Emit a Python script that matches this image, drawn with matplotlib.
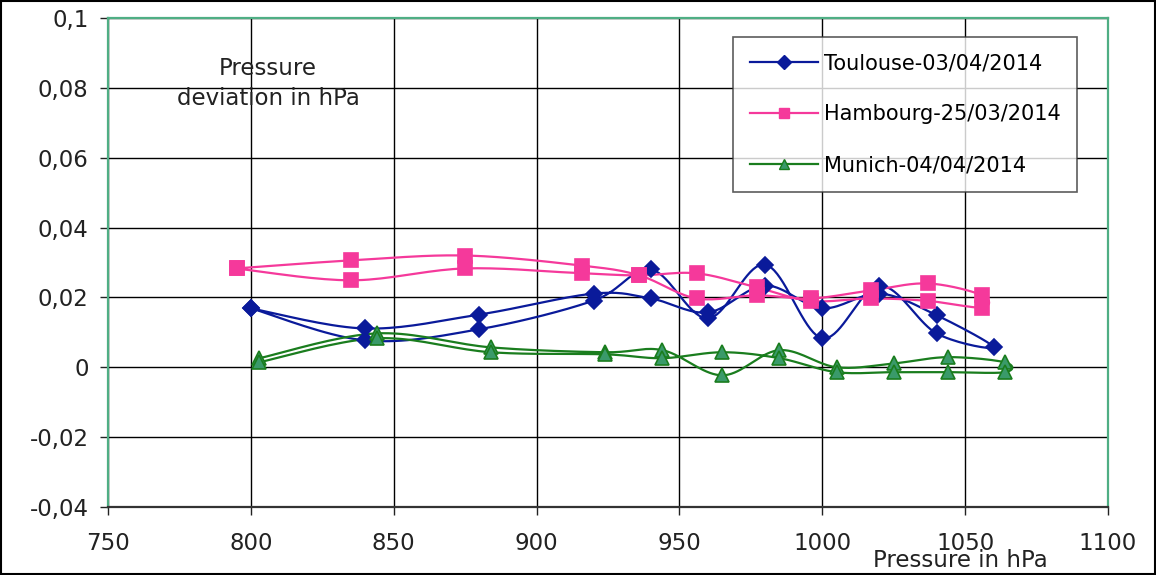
import numpy as np
import matplotlib.pyplot as plt
from matplotlib.patches import Rectangle

# Data (each run goes up in pressure, then back down)
toulouse_p = [800, 840, 880, 920, 940, 960, 980, 1000, 1020, 1040, 1060,
              1040, 1020, 1000, 980, 960, 940, 920, 880, 840, 800]
toulouse_d = [0.0169, 0.0077, 0.0109, 0.0191, 0.0280, 0.0140, 0.0294, 0.0083, 0.0234, 0.0097, 0.0057,
              0.0149, 0.0211, 0.0169, 0.0234, 0.0157, 0.0197, 0.0211, 0.0151, 0.0111, 0.0169]

hambourg_p = [795, 835, 875, 916, 936, 956, 977, 996, 1017, 1037, 1056,
              1056, 1037, 1017, 996, 977, 956, 936, 916, 875, 835, 795]
hambourg_d = [0.0283, 0.0306, 0.0320, 0.0291, 0.0263, 0.0197, 0.0206, 0.0197, 0.0220, 0.0240, 0.0206,
              0.0171, 0.0190, 0.0197, 0.0190, 0.0229, 0.0269, 0.0263, 0.0269, 0.0283, 0.0249, 0.0283]

munich_p = [803, 844, 884, 924, 944, 965, 985, 1005, 1025, 1044, 1064,
            1064, 1044, 1025, 1005, 985, 965, 944, 924, 884, 844, 803]
munich_d = [0.0026, 0.0097, 0.0057, 0.0043, 0.0049, -0.0023, 0.0049, 0.0000, 0.0011, 0.0029, 0.0014,
            -0.0014, -0.0014, -0.0014, -0.0014, 0.0026, 0.0043, 0.0026, 0.0037, 0.0043, 0.0083, 0.0014]

x_ticks = [750, 800, 850, 900, 950, 1000, 1050, 1100]
y_ticks = [-0.04, -0.02, 0, 0.02, 0.04, 0.06, 0.08, 0.1]
y_tick_labels = ["-0,04", "-0,02", "0", "0,02", "0,04", "0,06", "0,08", "0,1"]


def smooth(xs, ys, n=20):
    # Catmull-Rom style smoothing, like a spreadsheet "smoothed line"
    xs = np.asarray(xs, float)
    ys = np.asarray(ys, float)
    px = np.concatenate([[xs[0]], xs, [xs[-1]]])
    py = np.concatenate([[ys[0]], ys, [ys[-1]]])
    out_x, out_y = [], []
    t = np.linspace(0, 1, n)
    for i in range(1, len(px) - 2):
        p0, p1, p2, p3 = px[i - 1], px[i], px[i + 1], px[i + 2]
        q0, q1, q2, q3 = py[i - 1], py[i], py[i + 1], py[i + 2]
        c1x, c1y = p1 + (p2 - p0) / 6, q1 + (q2 - q0) / 6
        c2x, c2y = p2 - (p3 - p1) / 6, q2 - (q3 - q1) / 6
        bx = (1 - t) ** 3 * p1 + 3 * (1 - t) ** 2 * t * c1x + 3 * (1 - t) * t ** 2 * c2x + t ** 3 * p2
        by = (1 - t) ** 3 * q1 + 3 * (1 - t) ** 2 * t * c1y + 3 * (1 - t) * t ** 2 * c2y + t ** 3 * q2
        out_x.extend(bx)
        out_y.extend(by)
    return out_x, out_y


fig = plt.figure(figsize=(11.56, 5.75), dpi=100)
ax = fig.add_axes([0.0934, 0.1183, 0.8651, 0.8504])

series = [
    (toulouse_p, toulouse_d, "#0a1a9a", "D", "#0a1a9a", "#0a1a9a", 8, "Toulouse-03/04/2014"),
    (hambourg_p, hambourg_d, "#f5399b", "s", "#f5399b", "#f5399b", 10, "Hambourg-25/03/2014"),
    (munich_p, munich_d, "#1a7d1e", "^", "#3a9a6a", "#1a7d1e", 10, "Munich-04/04/2014"),
]
for px, py, col, mk, fc, ec, ms, lab in series:
    sx, sy = smooth(px, py)
    ax.plot(sx, sy, color=col, lw=1.6, zorder=3)
    ax.plot(px, py, ls="none", marker=mk, ms=ms, mfc=fc, mec=ec, mew=1.2, zorder=4)
    ax.plot([], [], color=col, lw=1.6, marker=mk, ms=7, mfc=fc, mec=ec, label=lab)

ax.set_xlim(750, 1100)
ax.set_ylim(-0.04, 0.1)
ax.set_xticks(x_ticks)
ax.set_yticks(y_ticks)
ax.set_yticklabels(y_tick_labels)
ax.grid(True, color="black", lw=1.0)
ax.set_axisbelow(True)
ax.tick_params(direction="out", length=6, width=1, labelsize=16.5, colors="#222222")
ax.tick_params(axis="x", pad=12)
ax.tick_params(axis="y", pad=8)

for side in ["top", "right", "left"]:
    ax.spines[side].set_color("#4fae84")
    ax.spines[side].set_linewidth(1.6)
ax.spines["bottom"].set_color("#333333")
ax.spines["bottom"].set_linewidth(1.6)

ax.text(806, 0.0812, "Pressure\ndeviation in hPa", ha="center", va="center",
        fontsize=16.5, linespacing=1.4, color="#222222", zorder=5)
fig.text(0.831, 0.026, "Pressure in hPa", ha="center", va="center", fontsize=16.5, color="#222222")

leg = ax.legend(loc="upper left", bbox_to_anchor=(0.625, 0.962), fontsize=15, frameon=True,
                fancybox=False, edgecolor="#333333", borderpad=0.8, labelspacing=1.5,
                handlelength=3.3, handletextpad=0.25, borderaxespad=0)
leg.get_frame().set_linewidth(1.2)

fig.patches.append(Rectangle((0.001, 0.002), 0.998, 0.996, transform=fig.transFigure,
                             fill=False, edgecolor="black", lw=1.5))

fig.savefig("out.png", dpi=100)
